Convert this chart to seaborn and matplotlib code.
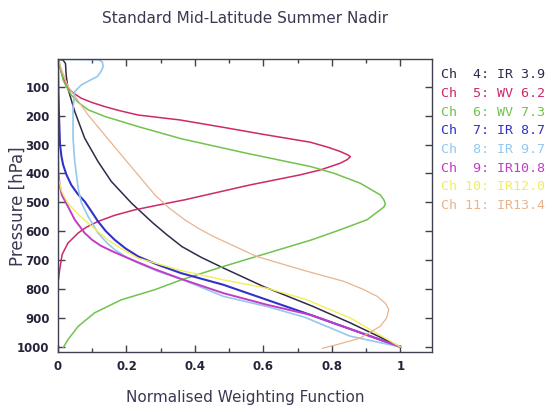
import matplotlib
matplotlib.use("Agg")
import matplotlib.pyplot as plt
import pandas as pd
import seaborn as sns

# Weighting functions per channel: pressure levels [hPa] and normalised weights
ch4_p = [5, 8, 20, 60, 106, 186, 278, 359, 428, 503, 572, 612, 653, 690, 727, 791, 860, 917, 960, 1000]
ch4_w = [0.0, 0.015, 0.022, 0.024, 0.029, 0.049, 0.078, 0.117, 0.156, 0.215, 0.278, 0.318, 0.362, 0.418, 0.483, 0.6, 0.745, 0.854, 0.93, 1.0]

ch5_p = [5, 20, 60, 100, 122, 140, 155, 169, 183, 198, 215, 240, 265, 292, 310, 324, 335, 342, 352, 365, 388, 405, 440, 491, 510, 526, 545, 566, 586, 606, 641, 681, 733, 780]
ch5_w = [0.0, 0.003, 0.012, 0.025, 0.045, 0.068, 0.1, 0.137, 0.18, 0.234, 0.356, 0.48, 0.6, 0.737, 0.79, 0.824, 0.845, 0.854, 0.845, 0.824, 0.766, 0.707, 0.56, 0.371, 0.29, 0.224, 0.165, 0.117, 0.083, 0.059, 0.029, 0.012, 0.005, 0.0]

ch6_p = [5, 8, 40, 77, 100, 129, 155, 180, 203, 238, 280, 330, 376, 399, 434, 474, 492, 505, 516, 526, 560, 595, 630, 687, 722, 768, 802, 837, 882, 929, 975, 1003]
ch6_w = [0.0, 0.003, 0.008, 0.015, 0.025, 0.039, 0.06, 0.088, 0.137, 0.234, 0.36, 0.55, 0.737, 0.805, 0.883, 0.941, 0.952, 0.956, 0.952, 0.941, 0.903, 0.824, 0.74, 0.58, 0.482, 0.36, 0.283, 0.185, 0.107, 0.059, 0.029, 0.015]

ch7_p = [5, 100, 200, 300, 340, 370, 405, 440, 470, 497, 530, 566, 600, 630, 660, 687, 715, 745, 785, 837, 889, 945, 1000]
ch7_w = [0.0, 0.001, 0.003, 0.006, 0.01, 0.015, 0.025, 0.039, 0.057, 0.078, 0.097, 0.117, 0.14, 0.166, 0.198, 0.234, 0.29, 0.36, 0.483, 0.61, 0.737, 0.87, 1.0]

ch8_p = [5, 7, 15, 30, 45, 65, 80, 94, 117, 175, 278, 359, 451, 500, 549, 606, 640, 664, 690, 710, 740, 768, 825, 860, 897, 963, 1000]
ch8_w = [0.0, 0.12, 0.13, 0.132, 0.127, 0.115, 0.09, 0.068, 0.049, 0.044, 0.044, 0.049, 0.059, 0.068, 0.088, 0.117, 0.143, 0.166, 0.2, 0.234, 0.295, 0.365, 0.483, 0.61, 0.72, 0.854, 1.0]

ch9_p = [5, 300, 394, 440, 474, 514, 560, 606, 630, 650, 670, 693, 730, 765, 814, 854, 889, 945, 1000]
ch9_w = [0.0, 0.0, 0.001, 0.005, 0.011, 0.029, 0.049, 0.078, 0.1, 0.125, 0.16, 0.205, 0.28, 0.36, 0.483, 0.61, 0.737, 0.87, 1.0]

ch10_p = [5, 300, 420, 460, 503, 540, 572, 600, 630, 660, 693, 736, 768, 797, 834, 900, 1000]
ch10_w = [0.0, 0.0, 0.002, 0.01, 0.029, 0.058, 0.088, 0.116, 0.146, 0.185, 0.234, 0.36, 0.483, 0.61, 0.72, 0.854, 1.0]

ch11_p = [5, 40, 100, 198, 336, 474, 520, 560, 590, 618, 687, 736, 773, 800, 825, 850, 871, 900, 929, 969, 992, 1005]
ch11_w = [0.0, 0.01, 0.03, 0.088, 0.185, 0.283, 0.325, 0.37, 0.41, 0.454, 0.58, 0.72, 0.834, 0.89, 0.932, 0.957, 0.966, 0.96, 0.941, 0.883, 0.815, 0.771]

channel_labels = ["Ch  4: IR 3.9", "Ch  5: WV 6.2", "Ch  6: WV 7.3", "Ch  7: IR 8.7",
                  "Ch  8: IR 9.7", "Ch  9: IR10.8", "Ch 10: IR12.0", "Ch 11: IR13.4"]
channel_colors = ["#2e2c48", "#cc2a68", "#72c24e", "#3232c8",
                  "#94c8ee", "#c23cc8", "#f2ee5a", "#e8b48e"]
channel_widths = [1.1, 1.1, 1.1, 1.5, 1.2, 1.4, 1.0, 0.9]

x_ticks = [0, 0.2, 0.4, 0.6, 0.8, 1]
x_tick_labels = ["0", "0.2", "0.4", "0.6", "0.8", "1"]
y_ticks = [100, 200, 300, 400, 500, 600, 700, 800, 900, 1000]

pressures = [ch4_p, ch5_p, ch6_p, ch7_p, ch8_p, ch9_p, ch10_p, ch11_p]
weights = [ch4_w, ch5_w, ch6_w, ch7_w, ch8_w, ch9_w, ch10_w, ch11_w]

frames = []
for lab, p, w in zip(channel_labels, pressures, weights):
    frames.append(pd.DataFrame({"channel": lab, "pressure": p, "weight": w}))
df = pd.concat(frames, ignore_index=True)

sns.set_style("ticks")
plt.rcParams["font.family"] = ["DejaVu Sans"]

text_col = "#3c3852"
fig = plt.figure(figsize=(5.52, 4.12), dpi=100)
ax = fig.add_axes([0.105, 0.146, 0.678, 0.711])

for lab, col, lw in zip(channel_labels, channel_colors, channel_widths):
    sub = df[df["channel"] == lab]
    sns.lineplot(data=sub, x="weight", y="pressure", sort=False, estimator=None,
                 color=col, linewidth=lw, ax=ax, legend=False)

ax.set_xlim(0, 1.093)
ax.set_ylim(1017, 4)
ax.set_xticks(x_ticks)
ax.set_xticklabels(x_tick_labels)
ax.set_xticks([0.1, 0.3, 0.5, 0.7, 0.9], minor=True)
ax.set_yticks(y_ticks)
ax.set_yticklabels([str(v) for v in y_ticks])
ax.tick_params(axis="both", which="major", direction="in", length=5, width=1,
               top=True, right=True, labelsize=8.5, colors="#404050",
               labelcolor="#26243a", pad=6)
ax.tick_params(axis="x", which="minor", direction="in", length=3, width=1,
               top=True, colors="#404050")
for lbl in ax.get_xticklabels() + ax.get_yticklabels():
    lbl.set_fontweight("bold")
for sp in ax.spines.values():
    sp.set_visible(True)
    sp.set_color("#404050")
    sp.set_linewidth(1.0)

ax.set_xlabel("")
ax.set_ylabel("")
fig.text(0.444, 0.034, "Normalised Weighting Function", ha="center", va="center",
         fontsize=11, color=text_col)
fig.text(0.033, 0.50, "Pressure [hPa]", ha="center", va="center", rotation=90,
         fontsize=12, color=text_col)
fig.text(0.444, 0.956, "Standard Mid-Latitude Summer Nadir", ha="center", va="center",
         fontsize=11, color=text_col)

# Channel key as coloured text to the right of the axes
for i, (lab, col) in enumerate(zip(channel_labels, channel_colors)):
    y = 412 - (75 + i * 18.6)
    fig.text(441 / 552, y / 412, lab, ha="left", va="center", fontsize=9.6,
             color=col, family="DejaVu Sans Mono")

fig.savefig("out.png", dpi=100)
